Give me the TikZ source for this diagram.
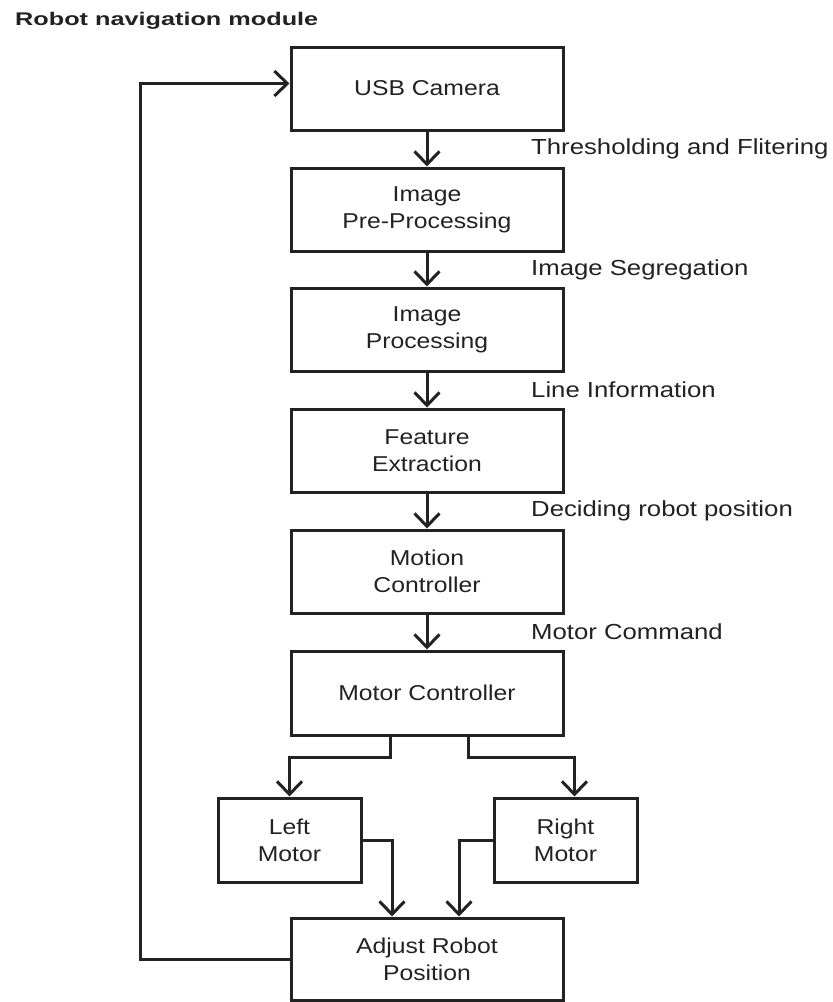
\documentclass[tikz,border=0pt]{standalone}
\usepackage{fontspec}
\setmainfont{Liberation Sans}[FakeStretch=1.15]
\newfontfamily\titlefont{Liberation Sans}[FakeStretch=1.38]
\newfontfamily\lblfont{Liberation Sans}[FakeStretch=1.18]
\usetikzlibrary{arrows.meta}
\definecolor{ink}{HTML}{222222}
\begin{document}
\begin{tikzpicture}[x=1pt,y=-1pt,
  box/.style={draw=ink, line width=3pt, minimum width=272pt, minimum height=83pt,
    align=center, inner sep=0pt, text=ink, font=\fontsize{21.5}{27}\selectfont},
  smallbox/.style={box, minimum width=143pt, minimum height=84pt},
  lbl/.style={anchor=west, inner sep=0pt, text=ink, font=\lblfont\fontsize{21.8}{27}\selectfont},
  arr/.style={draw=ink, line width=3pt,
    -{Straight Barb[length=13pt,width=25pt,line width=3pt]}},
  conn/.style={draw=ink, line width=3pt}]
\useasboundingbox (0,0) rectangle (833,1002);
\node[anchor=west, inner sep=0pt, text=ink, font=\titlefont\bfseries\fontsize{18.3}{21}\selectfont] (title) at (15,21) {Robot navigation module};

\node[box] (usb) at (427,88.5) {USB Camera};
\node[box] (pre) at (427,209.5) {Image\\Pre-Processing};
\node[box] (proc) at (427,329.5) {Image\\Processing};
\node[box] (feat) at (427,450.5) {Feature\\Extraction};
\node[box] (motion) at (427,571.5) {Motion\\Controller};
\node[box, minimum height=84pt] (motor) at (427,693) {Motor Controller};
\node[smallbox] (left) at (289.5,840) {Left\\Motor};
\node[smallbox] (right) at (565.5,840) {Right\\Motor};
\node[box, minimum height=82pt] (adjust) at (427,959) {Adjust Robot\\Position};

\node[lbl] (l1) at (531,149) {Thresholding and Flitering};
\node[lbl] (l2) at (531,270) {Image Segregation};
\node[lbl] (l3) at (531,390) {Line Information};
\node[lbl] (l4) at (531,511) {Deciding robot position};
\node[lbl] (l5) at (531,632) {Motor Command};

\draw[arr] (usb) -- (pre);
\draw[arr] (pre) -- (proc);
\draw[arr] (proc) -- (feat);
\draw[arr] (feat) -- (motion);
\draw[arr] (motion) -- (motor);

\coordinate (sl) at (390,757);
\coordinate (sr) at (468,757);
\draw[arr] (motor.south -| sl) -- (sl) -| (left.north);
\draw[arr] (motor.south -| sr) -- (sr) -| ([xshift=9pt]right.north);

\draw[arr] (left.east) -| ([xshift=-35pt]adjust.north);
\draw[arr] (right.west) -| ([xshift=32pt]adjust.north);

\coordinate (fb) at (140,0);
\draw[arr] (adjust.west) -- (adjust.west -| fb) |- ([yshift=5pt]usb.west);
\end{tikzpicture}
\end{document}
